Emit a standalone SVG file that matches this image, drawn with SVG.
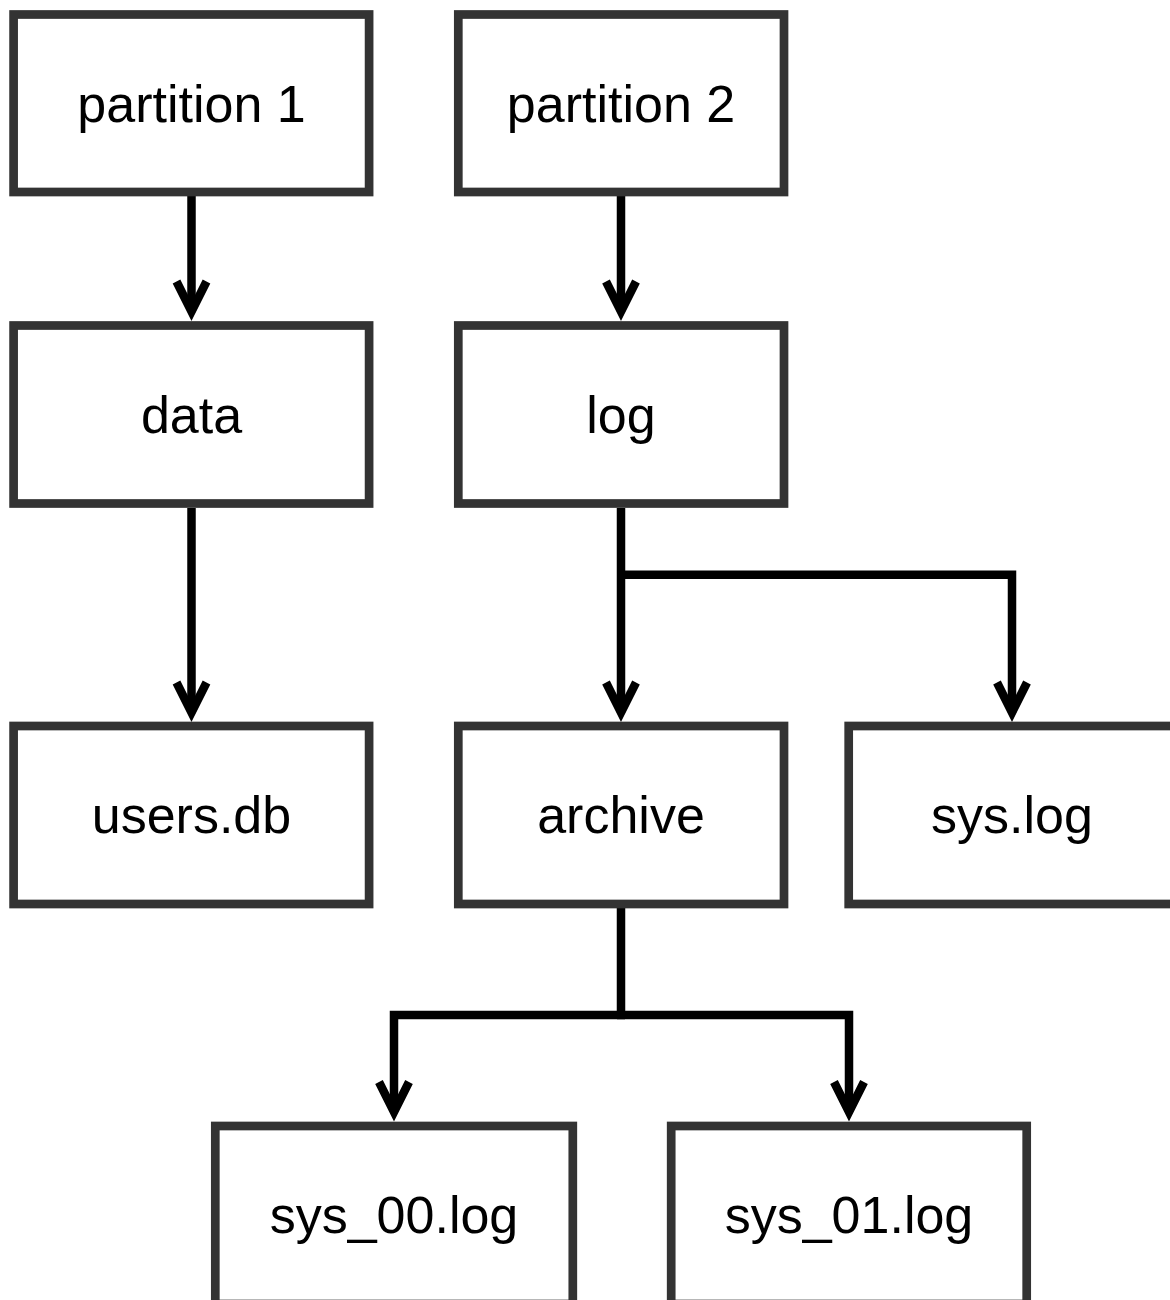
<svg xmlns="http://www.w3.org/2000/svg" width="1170" height="1300" viewBox="0 0 1170 1300">
  <style>
    .box rect { fill: #ffffff; stroke: #333333; stroke-width: 8.7; }
    .box text { font-family: "Liberation Sans", Arial, Helvetica, sans-serif; font-size: 52px; fill: #000000; text-anchor: middle; }
    .edge { fill: none; stroke: #000000; stroke-width: 8.5; stroke-linejoin: miter; marker-end: url(#open-arrow); }
    .trunk { fill: none; stroke: #000000; stroke-width: 8.5; stroke-linejoin: miter; }
  </style>
  <defs>
    <marker id="open-arrow" markerUnits="userSpaceOnUse" orient="auto" refX="0" refY="0" markerWidth="60" markerHeight="60" viewBox="-45 -30 60 60" overflow="visible">
      <path d="M -30 -15 L 0 0 L -30 15" fill="none" stroke="#000000" stroke-width="8.5" stroke-linejoin="miter" stroke-miterlimit="10"/>
    </marker>
  </defs>
  <rect width="1170" height="1300" fill="#ffffff"/>

  <!-- connectors -->
  <g id="connectors">
    <path class="edge" d="M 191.5 196 L 191.5 311.5"/>
    <path class="edge" d="M 621 196 L 621 311.5"/>
    <path class="edge" d="M 191.5 508 L 191.5 712.5"/>
    <path class="edge" d="M 621 508 L 621 712.5"/>
    <path class="edge" d="M 621 574.7 L 1012 574.7 L 1012 712.5"/>
    <path class="trunk" d="M 621 908 L 621 1015"/>
    <path class="edge" d="M 625 1015 L 394 1015 L 394 1112"/>
    <path class="edge" d="M 617 1015 L 849 1015 L 849 1112"/>
  </g>

  <!-- nodes -->
  <g id="partition1" class="box">
    <rect x="13.6" y="14.5" width="355.5" height="177.5"/>
    <text x="191.5" y="121.5">partition 1</text>
  </g>
  <g id="partition2" class="box">
    <rect x="458.3" y="14.5" width="325.7" height="177.5"/>
    <text x="621" y="121.5">partition 2</text>
  </g>
  <g id="data" class="box">
    <rect x="13.6" y="325.5" width="355.5" height="178"/>
    <text x="191.5" y="432.5">data</text>
  </g>
  <g id="log" class="box">
    <rect x="458.3" y="325.5" width="325.7" height="178"/>
    <text x="621" y="432.5">log</text>
  </g>
  <g id="users-db" class="box">
    <rect x="13.6" y="726" width="355.5" height="178"/>
    <text x="191.5" y="833">users.db</text>
  </g>
  <g id="archive" class="box">
    <rect x="458.3" y="726" width="325.7" height="178"/>
    <text x="621" y="833">archive</text>
  </g>
  <g id="sys-log" class="box">
    <rect x="848.7" y="726" width="326" height="178"/>
    <text x="1012" y="833">sys.log</text>
  </g>
  <g id="sys-00-log" class="box">
    <rect x="215.3" y="1126" width="357.5" height="178"/>
    <text x="394" y="1233">sys_00.log</text>
  </g>
  <g id="sys-01-log" class="box">
    <rect x="671.2" y="1126" width="355.5" height="178"/>
    <text x="849" y="1233">sys_01.log</text>
  </g>
</svg>
